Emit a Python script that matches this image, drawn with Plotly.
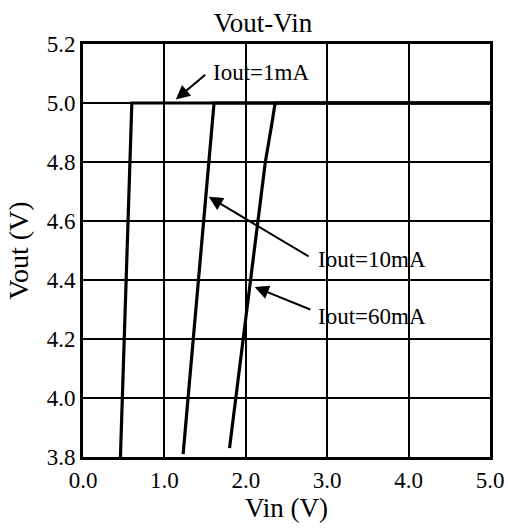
import plotly.graph_objects as go

# Data
vin_1mA = [0.46, 0.60, 5.0]
vout_1mA = [3.80, 5.00, 5.00]
vin_10mA = [1.23, 1.61, 5.0]
vout_10mA = [3.81, 5.00, 5.00]
vin_60mA = [1.80, 2.24, 2.32, 2.36, 5.0]
vout_60mA = [3.83, 4.80, 4.93, 5.00, 5.00]

x_ticks = [0, 1, 2, 3, 4, 5]
x_tick_labels = ["0.0", "1.0", "2.0", "3.0", "4.0", "5.0"]
y_ticks = [3.8, 4.0, 4.2, 4.4, 4.6, 4.8, 5.0, 5.2]
y_tick_labels = ["3.8", "4.0", "4.2", "4.4", "4.6", "4.8", "5.0", "5.2"]

# label text, text position (x, y), arrow head (x, y), arrow tail (x, y)
labels = ["Iout=1mA", "Iout=10mA", "Iout=60mA"]
label_pos = [(1.57, 5.105), (2.86, 4.468), (2.86, 4.276)]
arrow_head = [(1.14, 5.012), (1.545, 4.682), (2.11, 4.376)]
arrow_tail = [(1.52, 5.10), (2.79, 4.477), (2.81, 4.298)]

FONT = "Liberation Serif"

fig = go.Figure()
for xs, ys, name in [(vin_1mA, vout_1mA, "1mA"), (vin_10mA, vout_10mA, "10mA"),
                     (vin_60mA, vout_60mA, "60mA")]:
    fig.add_trace(go.Scatter(x=xs, y=ys, mode="lines", name=name,
                             line=dict(color="black", width=3.2)))

anns = []
for t, (tx, ty), (hx, hy), (ax, ay) in zip(labels, label_pos, arrow_head, arrow_tail):
    anns.append(dict(x=tx, y=ty, xref="x", yref="y", text=t, showarrow=False,
                     xanchor="left", yanchor="middle",
                     font=dict(family=FONT, size=23, color="black")))
    anns.append(dict(x=hx, y=hy, xref="x", yref="y", ax=ax, ay=ay,
                     axref="x", ayref="y", text="", showarrow=True,
                     arrowhead=2, arrowsize=1.4, arrowwidth=2, arrowcolor="black"))

fig.update_layout(
    width=508, height=529,
    margin=dict(l=83, r=18, t=44, b=72, autoexpand=False),
    paper_bgcolor="white", plot_bgcolor="white",
    showlegend=False,
    font=dict(family=FONT, color="black"),
    title=dict(text="Vout-Vin", x=263 / 508, xref="container", xanchor="center",
               y=1 - 23 / 529, yref="container", yanchor="middle",
               font=dict(family=FONT, size=27, color="black")),
    annotations=anns,
)
fig.update_xaxes(range=[0, 5], tickvals=x_ticks, ticktext=x_tick_labels,
                 showgrid=True, gridcolor="black", gridwidth=2,
                 showline=True, linecolor="black", linewidth=3, mirror=True,
                 ticks="", zeroline=False, automargin=False,
                 tickfont=dict(family=FONT, size=23, color="black"),
                 title=dict(text="Vin (V)", standoff=6,
                            font=dict(family=FONT, size=27, color="black")))
fig.update_yaxes(range=[3.8, 5.2], tickvals=y_ticks, ticktext=y_tick_labels,
                 showgrid=True, gridcolor="black", gridwidth=2,
                 showline=True, linecolor="black", linewidth=3, mirror=True,
                 ticks="", zeroline=False, automargin=False,
                 tickfont=dict(family=FONT, size=23, color="black"),
                 title=dict(text="Vout (V)", standoff=10,
                            font=dict(family=FONT, size=28, color="black")))

fig.write_html("out.html")
